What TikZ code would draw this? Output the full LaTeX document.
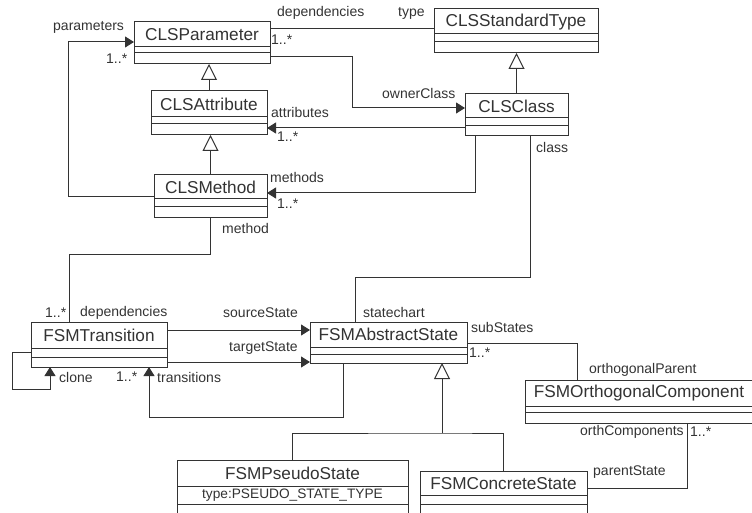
\documentclass[tikz,border=0pt]{standalone}
\usepackage{fontspec}
\setmainfont{Liberation Sans}
\usetikzlibrary{arrows.meta,calc}

\definecolor{umlgray}{HTML}{333333}

\tikzset{
 umlbox/.style={draw=umlgray, line width=1pt, fill=white, inner sep=0pt, outer sep=0pt},
 umlname/.style={inner sep=0pt, anchor=north, text=umlgray, font=\fontsize{17.2}{19}\selectfont},
 umlattr/.style={inner sep=0pt, text=umlgray, font=\fontsize{13.7}{15}\selectfont},
 lbl/.style={inner sep=0pt, anchor=west, text=umlgray, font=\fontsize{14}{16}\selectfont},
 conn/.style={draw=umlgray, line width=1pt},
 assoc/.style={conn, -{Triangle[length=9pt,width=11pt]}},
 gen/.style={conn, -{Triangle[open,length=16pt,width=16pt,fill=white]}}
}

% #1 name, #2 x, #3 y, #4 width, #5 height, #6 first line, #7 second line, #8 text
\newcommand{\umlclass}[8]{%
 \node[umlbox, minimum width=#4, minimum height=#5, anchor=north west] (#1) at (#2,#3) {};
 \node[umlname, minimum height=#6] (#1-name) at (#1.north) {#8};
 \draw[conn] ([yshift=-#6]#1.north west) -- ([yshift=-#6]#1.north east);
 \draw[conn] ([yshift=-#7]#1.north west) -- ([yshift=-#7]#1.north east);
}

\begin{document}
\begin{tikzpicture}[x=1pt,y=-1pt]

 \useasboundingbox (0,0) rectangle (752,513);
 \clip (0,0) rectangle (752,513);

 % CLS classes
 \umlclass{param}{134}{22}{136}{42}{25}{31}{CLSParameter}
 \umlclass{attr}{151}{91}{116}{44}{26}{33}{CLSAttribute}
 \umlclass{meth}{154}{175}{113}{43}{24}{32}{CLSMethod}
 \umlclass{stype}{434}{9}{164}{44}{25}{33}{CLSStandardType}
 \umlclass{cls}{465}{94}{103}{42}{24}{32}{CLSClass}

 % FSM classes
 \umlclass{trans}{31}{322}{136}{45}{26}{35}{FSMTransition}
 \umlclass{abs}{310}{322}{157}{41}{25}{32}{FSMAbstractState}
 \umlclass{orth}{525}{380}{228}{43}{26}{32}{FSMOrthogonalComponent}
 \umlclass{pseudo}{177}{460}{231}{70}{26}{44}{FSMPseudoState}
 \umlclass{conc}{420}{471}{167}{59}{24}{33}{FSMConcreteState}
 \node[umlattr] (pseudo-attr) at ([yshift=-35]pseudo.north) {type:PSEUDO\_STATE\_TYPE};

 % generalizations
 \draw[gen] (attr.north) -- (attr.north |- param.south);
 \draw[gen] (meth.north) -- (meth.north |- attr.south);
 \draw[gen] (cls.north) -- (cls.north |- stype.south);
 \coordinate (stj) at (442,433);
 \draw[conn] (pseudo.north) |- (stj) -| (conc.north);
 \draw[gen] (stj) -- (stj |- abs.south);

 % associations
 \draw[conn] ([yshift=-7]param.north east) -- ([yshift=-7]param.north east -| stype.west);
 \draw[assoc] ([yshift=-35]param.north east) -- ++(82,0) |- ([yshift=-14]cls.north west);
 \draw[assoc] ([yshift=-34]cls.north west) -- ([yshift=-34]cls.north west -| attr.east);
 \draw[assoc] ([xshift=10]cls.south west) |- ([yshift=-18]meth.north east);
 \draw[conn] ([xshift=65]cls.south west) -- ++(0,141) -| ([xshift=45]abs.north west);
 \draw[assoc] ([yshift=-22]meth.north west) -- ++(-86,0) |- ([yshift=-20]param.north west);
 \draw[conn] ([xshift=56]meth.south west) -- ++(0,36) -| ([xshift=38]trans.north west);
 \draw[assoc] ([yshift=-8]trans.north east) -- ([yshift=-8]trans.north east -| abs.west);
 \draw[assoc] ([yshift=-40]trans.north east) -- ([yshift=-40]trans.north east -| abs.west);
 \draw[assoc] ([yshift=-30]trans.north west) -- ++(-19,0) -- ++(0,37) -| ([xshift=19]trans.south west);
 \draw[assoc] ([xshift=33]abs.south west) -- ++(0,54) -| ([xshift=118]trans.south west);
 \draw[conn] ([yshift=-21]abs.north east) -| ([xshift=52]orth.north west);
 \draw[conn] ([xshift=162]orth.south west) |- ([yshift=-17]conc.north east);

 % role names and multiplicities
 \node[lbl] (l-params) at (53,27) {parameters};
 \node[lbl] (m-params) at (106,59) {1..*};
 \node[lbl] (l-pdeps) at (277,13) {dependencies};
 \node[lbl] (l-type) at (398,13) {type};
 \node[lbl] (m-pdeps) at (271,40) {1..*};
 \node[lbl] (l-owner) at (382,93) {ownerClass};
 \node[lbl] (l-attrs) at (271,112) {attributes};
 \node[lbl] (m-attrs) at (277,137) {1..*};
 \node[lbl] (l-meths) at (270,177) {methods};
 \node[lbl] (m-meths) at (277,204) {1..*};
 \node[lbl] (l-class) at (536,147) {class};
 \node[lbl] (l-method) at (222,228) {method};
 \node[lbl] (m-tdeps) at (45,313) {1..*};
 \node[lbl] (l-tdeps) at (80,313) {dependencies};
 \node[lbl] (l-source) at (223,313) {sourceState};
 \node[lbl] (l-chart) at (363,312) {statechart};
 \node[lbl] (l-target) at (229,348) {targetState};
 \node[lbl] (l-clone) at (59,377) {clone};
 \node[lbl] (m-trans) at (116,377) {1..*};
 \node[lbl] (l-trans) at (157,377) {transitions};
 \node[lbl] (l-subs) at (471,327) {subStates};
 \node[lbl] (m-subs) at (469,353) {1..*};
 \node[lbl] (l-oparent) at (589,370) {orthogonalParent};
 \node[lbl] (l-ocomps) at (580,432) {orthComponents};
 \node[lbl] (m-ocomps) at (690,432) {1..*};
 \node[lbl] (l-pstate) at (593,472) {parentState};

\end{tikzpicture}
\end{document}
